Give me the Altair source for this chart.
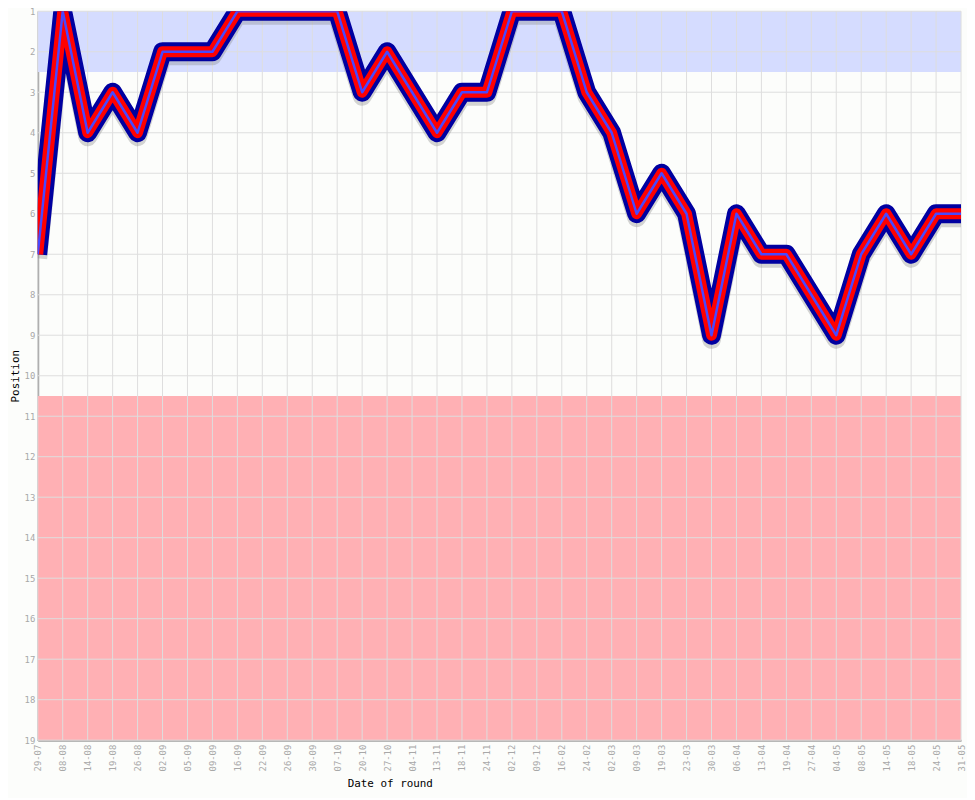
import altair as alt
import pandas as pd

rounds = ["29-07", "08-08", "14-08", "19-08", "26-08", "02-09", "05-09", "09-09",
          "16-09", "22-09", "26-09", "30-09", "07-10", "20-10", "27-10", "04-11",
          "13-11", "18-11", "24-11", "02-12", "09-12", "16-02", "24-02", "02-03",
          "09-03", "19-03", "23-03", "30-03", "06-04", "13-04", "19-04", "27-04",
          "04-05", "08-05", "14-05", "18-05", "24-05", "31-05"]
positions = [7, 1, 4, 3, 4, 2, 2, 2,
             1, 1, 1, 1, 1, 3, 2, 3,
             4, 3, 3, 1, 1, 1, 3, 4,
             6, 5, 6, 9, 6, 7, 7, 8,
             9, 7, 6, 7, 6, 6]
y_ticks = list(range(1, 20))
band_from = [1, 10.5]
band_to = [2.5, 19]
band_colors = ["#D5DCFF", "#FFB0B4"]

df = pd.DataFrame({"round": rounds, "pos": positions})
bands = pd.DataFrame({"y": band_from, "y2": band_to, "c": band_colors})
hgrid = pd.DataFrame({"t": y_ticks})
vgrid = pd.DataFrame({"round": rounds})

FONT = "DejaVu Sans Mono"
W, H = 931, 735

xscale = alt.Scale(type="point", padding=0, domain=rounds)
yscale = alt.Scale(domain=[1, 19], reverse=True, nice=False, zero=False)

xaxis = alt.Axis(title="Date of round", labelAngle=-90, labelAlign="right",
                 labelBaseline="middle", labelColor="#A8A8A8", labelFont=FONT,
                 labelFontSize=9, labelPadding=4, ticks=False, grid=False,
                 domainColor="#A0A0A0", domainWidth=2, titleFont=FONT,
                 titleFontSize=11, titleFontWeight="normal", titleColor="#000000",
                 titleX=355, titleY=38, titleBaseline="top", titleAlign="center",
                 labelOverlap=False)
yaxis = alt.Axis(title="Position", values=y_ticks, labelColor="#A8A8A8",
                 labelFont=FONT, labelFontSize=9, labelPadding=3, ticks=False,
                 grid=False, domainColor="#A0A0A0", domainWidth=2, titleFont=FONT,
                 titleFontSize=11, titleFontWeight="normal", titleColor="#000000",
                 titleX=-22, titleBaseline="middle", format="d")

band_layer = alt.Chart(bands).mark_rect().encode(
    x=alt.value(0), x2=alt.value("width"),
    y=alt.Y("y:Q", scale=yscale, axis=yaxis), y2="y2:Q",
    color=alt.Color("c:N", scale=None),
)

hgrid_layer = alt.Chart(hgrid).mark_rule(color="#DEDEDE", strokeWidth=1).encode(
    y=alt.Y("t:Q", scale=yscale)
)
vgrid_layer = alt.Chart(vgrid).mark_rule(color="#DEDEDE", strokeWidth=1).encode(
    x=alt.X("round:N", scale=xscale, sort=None, axis=xaxis)
)

base = alt.Chart(df).encode(
    x=alt.X("round:N", scale=xscale, sort=None),
)

shadow = alt.Chart(df).transform_calculate(sy="datum.pos + 0.1").mark_line(
    color="#888888", opacity=0.35, strokeWidth=19, strokeJoin="round", clip=True
).encode(x=alt.X("round:N", scale=xscale, sort=None), y=alt.Y("sy:Q", scale=yscale))

navy = base.mark_line(color="#0000A0", strokeWidth=19, strokeJoin="round",
                      clip=True).encode(y=alt.Y("pos:Q", scale=yscale))
red = base.mark_line(color="#FF0000", strokeWidth=11, strokeJoin="round",
                     clip=True).encode(y=alt.Y("pos:Q", scale=yscale))
center = base.mark_line(color="#4848FF", strokeWidth=2.5, strokeJoin="round",
                        clip=True).encode(y=alt.Y("pos:Q", scale=yscale))

chart = alt.layer(band_layer, hgrid_layer, vgrid_layer, shadow, navy, red, center).properties(
    width=W, height=H,
    autosize=alt.AutoSizeParams(type="none"),
    padding={"left": 30, "top": 0, "right": 6, "bottom": 55},
    background="#FCFDFB",
).configure_view(stroke=None)

chart.save("out.html", embed_options={"renderer": "svg", "actions": False})
